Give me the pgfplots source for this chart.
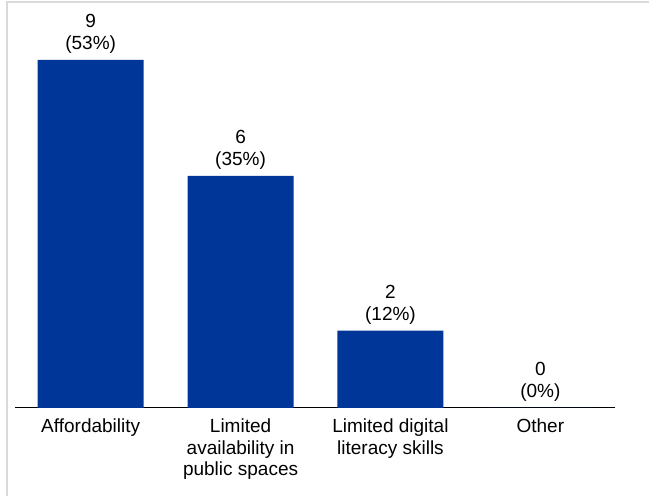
\documentclass[border=0pt]{standalone}
\usepackage{pgfplots}
\pgfplotsset{compat=1.18}
\usepackage{fontspec}
\setmainfont{Liberation Sans}
\definecolor{barblue}{RGB}{0,54,152}
\definecolor{framegray}{RGB}{217,217,217}
\begin{document}
\begin{tikzpicture}[x=1pt,y=1pt]
\path[use as bounding box] (0,0) rectangle (649,496);
\draw[framegray,line width=2pt] (7,0) -- (7,494.2) -- (649,494.2);
\begin{axis}[
  at={(15pt,88pt)}, anchor=south west,
  scale only axis,
  width=600pt, height=386.7pt,
  xmin=-0.505, xmax=3.498,
  ymin=0, ymax=10,
  axis y line=none,
  axis x line*=bottom,
  x axis line style={black, line width=1pt},
  xtick={0,1,2,3},
  xticklabels={Affordability, Limited\\availability in\\public spaces, Limited digital\\literacy skills, Other},
  major tick length=0pt,
  xticklabel style={align=center, font=\fontsize{19}{21.5}\selectfont, inner sep=0pt, yshift=-11pt},
  ytick=\empty,
  clip=false,
]
\addplot[ybar, bar width=106pt, fill=barblue, draw=none,
  point meta=explicit symbolic,
  nodes near coords,
  every node near coord/.append style={align=center, font=\fontsize{19}{22}\selectfont, black, yshift=3pt}]
  coordinates {
    (0,9) [9\\(53\%)]
    (1,6) [6\\(35\%)]
    (2,2) [2\\(12\%)]
    (3,0) [0\\(0\%)]
  };
\end{axis}
\end{tikzpicture}
\end{document}
